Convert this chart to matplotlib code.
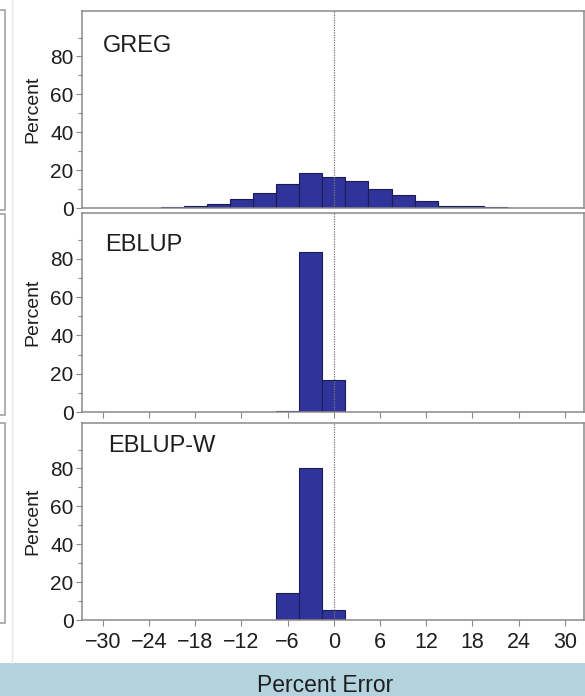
import numpy as np
import matplotlib.pyplot as plt
from matplotlib.patches import Rectangle
from matplotlib.lines import Line2D

plt.rcParams['font.family'] = ['Liberation Sans', 'DejaVu Sans']

# bin centres of percent error (bin width 3) and percent of areas in each bin
greg_bins = [-21, -18, -15, -12, -9, -6, -3, 0, 3, 6, 9, 12, 15, 18, 21, 24, 27]
greg_pct = [0.3, 1.0, 2.3, 4.6, 7.8, 12.5, 18.3, 16.5, 14.1, 10.0, 6.9, 3.9, 1.2, 0.8, 0.3, 0.2, 0.2]

eblup_bins = [-6, -3, 0]
eblup_pct = [0.3, 83.5, 16.5]

eblupw_bins = [-6, -3, 0]
eblupw_pct = [14.3, 80.5, 5.2]

panel_names = ["GREG", "EBLUP", "EBLUP-W"]
x_ticks = np.arange(-30, 31, 6)
bin_width = 3

bar_color = "#30349a"
edge_color = "#1b1c55"
spine_color = "#8a8a8a"
text_color = "#1e1e1e"

W, H = 585, 696
fig = plt.figure(figsize=(W / 100, H / 100), dpi=100)

# panel rectangles in pixels: (top, bottom)
panel_px = [(11, 208), (213, 412), (423, 620)]
left_px, right_px = 82, 584
label_pos = [(0.042, 0.824), (0.047, 0.839), (0.052, 0.883)]
data = [(greg_bins, greg_pct), (eblup_bins, eblup_pct), (eblupw_bins, eblupw_pct)]

for i, ((top, bot), (bins, pct)) in enumerate(zip(panel_px, data)):
    ax = fig.add_axes([left_px / W, 1 - bot / H, (right_px - left_px) / W, (bot - top) / H])
    ax.bar(bins, pct, width=bin_width, color=bar_color, edgecolor=edge_color, linewidth=0.8, zorder=2)
    ax.axvline(0, color="#777777", linestyle=(0, (1, 1)), linewidth=0.9, zorder=3)
    ax.set_xlim(-32.7, 32.5)
    ax.set_ylim(0, 104)
    ax.set_yticks([0, 20, 40, 60, 80])
    ax.set_yticks(np.arange(10, 100, 20), minor=True)
    ax.tick_params(axis='y', which='major', direction='out', length=4, width=0.8,
                   color=spine_color, labelsize=15, pad=2, labelcolor=text_color)
    ax.tick_params(axis='y', which='minor', direction='out', length=3, width=0.8, color=spine_color)
    ax.set_xticks(x_ticks)
    if i == 0:
        ax.tick_params(axis='x', length=0, labelbottom=False)
    elif i == 1:
        ax.tick_params(axis='x', direction='out', length=4, width=0.8, color=spine_color,
                       labelbottom=False)
    else:
        ax.tick_params(axis='x', direction='out', length=4, width=0.8, color=spine_color,
                       labelsize=15.5, pad=5, labelcolor=text_color)
    for s in ax.spines.values():
        s.set_color(spine_color)
        s.set_linewidth(1.1)
    ax.set_ylabel("Percent", fontsize=14, color=text_color)
    ax.yaxis.set_label_coords(-0.08, 0.5)
    ax.text(label_pos[i][0], label_pos[i][1], panel_names[i], transform=ax.transAxes,
            fontsize=17, va='center', ha='left', color=text_color)

# light blue band with the shared x label
fig.patches.append(Rectangle((0, 0), 1, 33 / H, transform=fig.transFigure,
                             facecolor="#b3d3df", edgecolor="none", zorder=0))
fig.text(325 / W, 4 / H, "Percent Error", fontsize=16.5, ha='center', va='baseline', color=text_color)

# faint separator and cut-off neighbouring panels at the left edge
fig.lines.append(Line2D([12 / W, 12 / W], [33 / H, 1], transform=fig.transFigure,
                        color="#e8e8e8", linewidth=1))
for top, bot in [(10, 210), (214, 415), (423, 623)]:
    fig.patches.append(Rectangle((-10 / W, 1 - bot / H), 15 / W, (bot - top) / H,
                                 transform=fig.transFigure, facecolor="none",
                                 edgecolor="#9a9a9a", linewidth=1.1))

fig.savefig("out.png", dpi=100)
